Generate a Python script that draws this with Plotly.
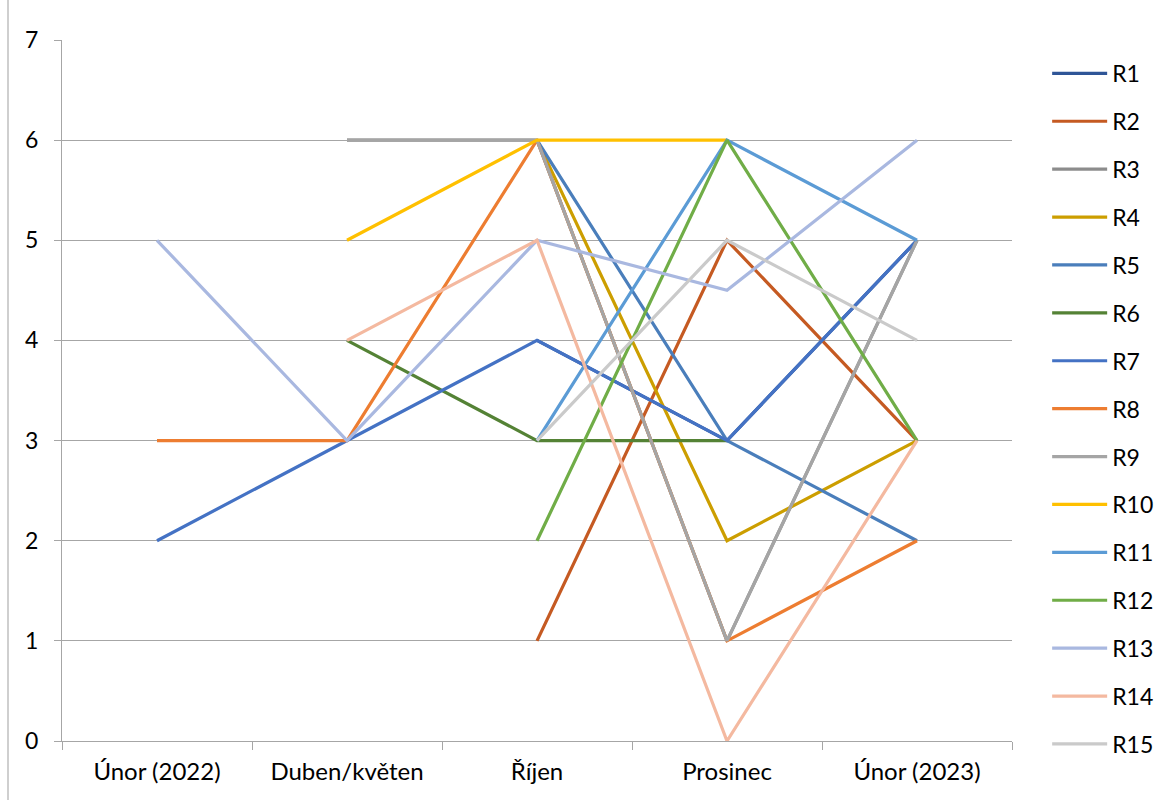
import plotly.graph_objects as go

categories = ["Únor (2022)", "Duben/květen", "Říjen", "Prosinec", "Únor (2023)"]

series_names = ["R1", "R2", "R3", "R4", "R5", "R6", "R7", "R8",
                "R9", "R10", "R11", "R12", "R13", "R14", "R15"]

R1 = [None, None, 4, 3, 5]
R2 = [None, None, 1, 5, 3]
R3 = [None, 6, 6, 1, 5]
R4 = [None, None, 6, 2, 3]
R5 = [None, None, 6, 3, 2]
R6 = [None, 4, 3, 3, None]
R7 = [2, 3, 4, 3, 5]
R8 = [3, 3, 6, 1, 2]
R9 = [None, 6, 6, 1, 5]
R10 = [None, 5, 6, 6, None]
R11 = [None, None, 3, 6, 5]
R12 = [None, None, 2, 6, 3]
R13 = [5, 3, 5, 4.5, 6]
R14 = [None, 4, 5, 0, 3]
R15 = [None, None, 3, 5, 4]

series_values = [R1, R2, R3, R4, R5, R6, R7, R8, R9, R10, R11, R12, R13, R14, R15]

colors = ["#2F5597", "#C55A22", "#8C8C8C", "#CC9E00", "#4A7EBB", "#548235",
          "#4472C4", "#ED7D31", "#A5A5A5", "#FFC000", "#5B9BD5", "#70AD47",
          "#A9B8E0", "#F4B9A0", "#CACACA"]

y_ticks = [0, 1, 2, 3, 4, 5, 6, 7]

fig = go.Figure()
for name, vals, col in zip(series_names, series_values, colors):
    fig.add_trace(go.Scatter(
        x=categories, y=vals, name=name, mode="lines",
        line=dict(color=col, width=3.2),
        connectgaps=False, legendgroup=name,
    ))

font_family = "Lato, 'Liberation Sans', sans-serif"
grid_col = "#A6A6A6"

fig.update_layout(
    width=1167, height=800,
    margin=dict(l=62, r=155, t=40, b=59, autoexpand=False),
    paper_bgcolor="white", plot_bgcolor="white",
    font=dict(family=font_family, size=22, color="#000000"),
    showlegend=True,
    legend=dict(
        x=1.037, y=0.983, xanchor="left", yanchor="top",
        font=dict(size=23), tracegroupgap=15, maxheight=790,
        itemwidth=55, bgcolor="rgba(0,0,0,0)",
    ),
    xaxis=dict(
        type="category", categoryorder="array", categoryarray=categories,
        showgrid=False, showline=True, linecolor=grid_col, linewidth=1.3,
        ticks="outside", tickson="boundaries", ticklen=8, tickcolor=grid_col,
        tickfont=dict(size=24), range=[-0.5, 4.5], ticklabelstandoff=9,
    ),
    yaxis=dict(
        range=[0, 7], tickvals=y_ticks, showgrid=True, gridcolor=grid_col,
        gridwidth=1.3, showline=True, linecolor=grid_col, linewidth=1.3,
        ticks="outside", ticklen=7, tickcolor=grid_col, zeroline=False,
        tickfont=dict(size=23), ticklabelstandoff=11,
    ),
)

# chart-area frame edge on the left
fig.add_shape(type="line", xref="paper", yref="paper",
              x0=-54 / 950, x1=-54 / 950, y0=-59 / 701, y1=741 / 701,
              line=dict(color="#BFBFBF", width=1.5))

fig.write_html("out.html")
